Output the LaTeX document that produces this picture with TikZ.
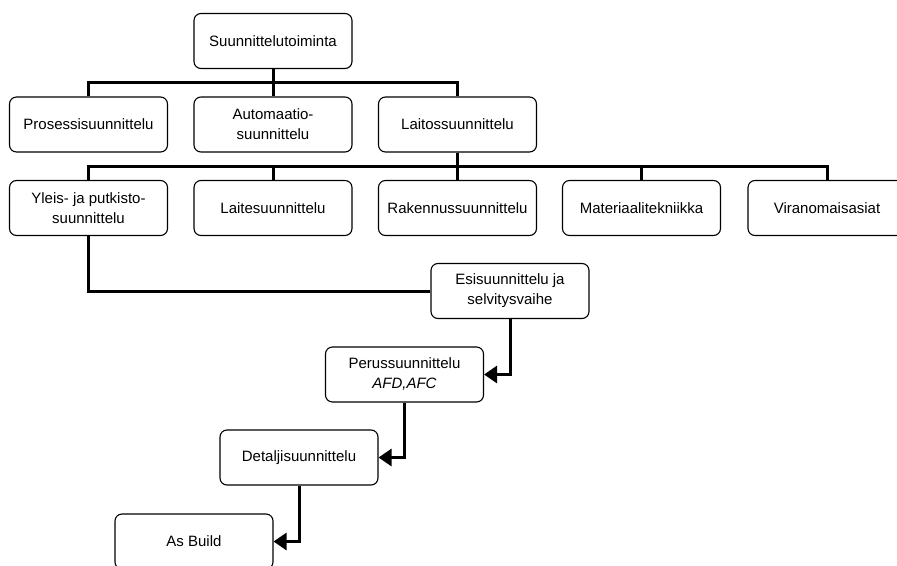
\documentclass[tikz,border=0pt]{standalone}
\usepackage{fontspec}
\setmainfont{Liberation Sans}
\usetikzlibrary{arrows.meta}
\tikzset{
  box/.style={draw,line width=1.1pt,rounded corners=7pt,minimum width=158pt,
    minimum height=55pt,inner sep=0pt,align=center,
    font=\fontsize{15}{20}\selectfont},
  bus/.style={line width=3pt},
  flow/.style={line width=3pt,-{Triangle[length=13pt,width=17pt]}}
}
\begin{document}
\begin{tikzpicture}
    \def\x{1pt}
    \def\y{-1pt}
    \useasboundingbox (0,0) rectangle (897*\x,565*\y);
    \node[box] (A0_0) at (273*\x, 41*\y) {Suunnittelutoiminta};
    \node[box] (A1_0) at (88.5*\x, 124.5*\y) {Prosessisuunnittelu};
    \node[box] (A1_1) at (273*\x, 124.5*\y) {Automaatio-\\suunnittelu};
    \node[box] (A1_2) at (457.5*\x, 124.5*\y) {Laitossuunnittelu};
    \node[box] (A2_0) at (88.5*\x, 208*\y) {Yleis- ja putkisto-\\suunnittelu};
    \node[box] (A2_1) at (273*\x, 208*\y) {Laitesuunnittelu};
    \node[box] (A2_2) at (457.5*\x, 208*\y) {Rakennussuunnittelu};
    \node[box] (A2_3) at (641.5*\x, 208*\y) {Materiaalitekniikka};
    \node[box] (A2_4) at (827*\x, 208*\y) {Viranomaisasiat};
    \node[box] (A3_0) at (510*\x, 291*\y) {Esisuunnittelu ja\\selvitysvaihe};
    \node[box] (A4_0) at (404.5*\x, 374.5*\y) {Perussuunnittelu\\\textit{AFD,AFC}};
    \node[box] (A5_0) at (299*\x, 457.5*\y) {Detaljisuunnittelu};
    \node[box] (A6_0) at (194*\x, 541.5*\y) {As Build};
    % organisation
    \foreach \c in {0,1,2}
      \draw[bus] (A0_0.south) -- ++(0,13*\y) -| (A1_\c.north);
    \foreach \c in {0,1,3,4}
      \draw[bus] (A1_2.south) -- ++(0,14*\y) -| (A2_\c.north);
    \draw[bus] (A1_2.south) -- (A2_2.north);
    % phases
    \draw[bus] (A2_0.south) |- (A3_0.west);
    \draw[flow] (A3_0.south) |- (A4_0.east);
    \draw[flow] (A4_0.south) |- (A5_0.east);
    \draw[flow] (A5_0.south) |- (A6_0.east);
  \end{tikzpicture}
\end{document}
